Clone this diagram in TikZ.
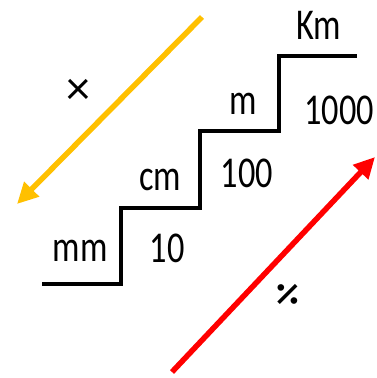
\documentclass[tikz,border=0pt]{standalone}
\usepackage{fontspec}
\setmainfont{Carlito}
\usepackage{tikz}
\usetikzlibrary{arrows.meta}
\definecolor{gold}{HTML}{FFC000}

\begin{document}
\begin{tikzpicture}[
    x=1pt, y=-1pt,
    unit/.style={font=\fontsize{44}{50}\selectfont, inner sep=0pt, xscale=0.78},
    sign/.style={font=\fontsize{48}{54}\selectfont, inner sep=0pt},
    stair/.style={line width=3.5pt, line join=miter},
    convert/.style={line width=5.5pt, -{Triangle[length=21pt,width=20pt]}}
]
\useasboundingbox (0,0) rectangle (377,378);

% the stairs
\draw[stair] (42,284) -- (121,284) -- (121,208) -- (200,208) -- (200,131)
    -- (279,131) -- (279,56) -- (357,56);

% units and factors
\node[unit] (mm)   at (80,251)  {mm};
\node[unit] (ten)  at (167,248) {10};
\node[unit] (cm)   at (160,180) {cm};
\node[unit] (hund) at (247,173) {100};
\node[unit] (m)    at (243,104) {m};
\node[unit] (thou) at (339,110) {1000};
\node[unit] (km)   at (319,25)  {Km};

% arrows
\coordinate (downstart) at (202,17);
\coordinate (downend)   at (17,204);
\coordinate (upstart)   at (172,372);
\coordinate (upend)     at (375,157);
\draw[convert,gold] (downstart) -- (downend);
\draw[convert,red]  (upstart) -- (upend);

\node[sign] (times) at (78,92)   {×};
\node[sign,rotate=45,scale=1.15] (divide) at (290,296) {÷};
\end{tikzpicture}
\end{document}
